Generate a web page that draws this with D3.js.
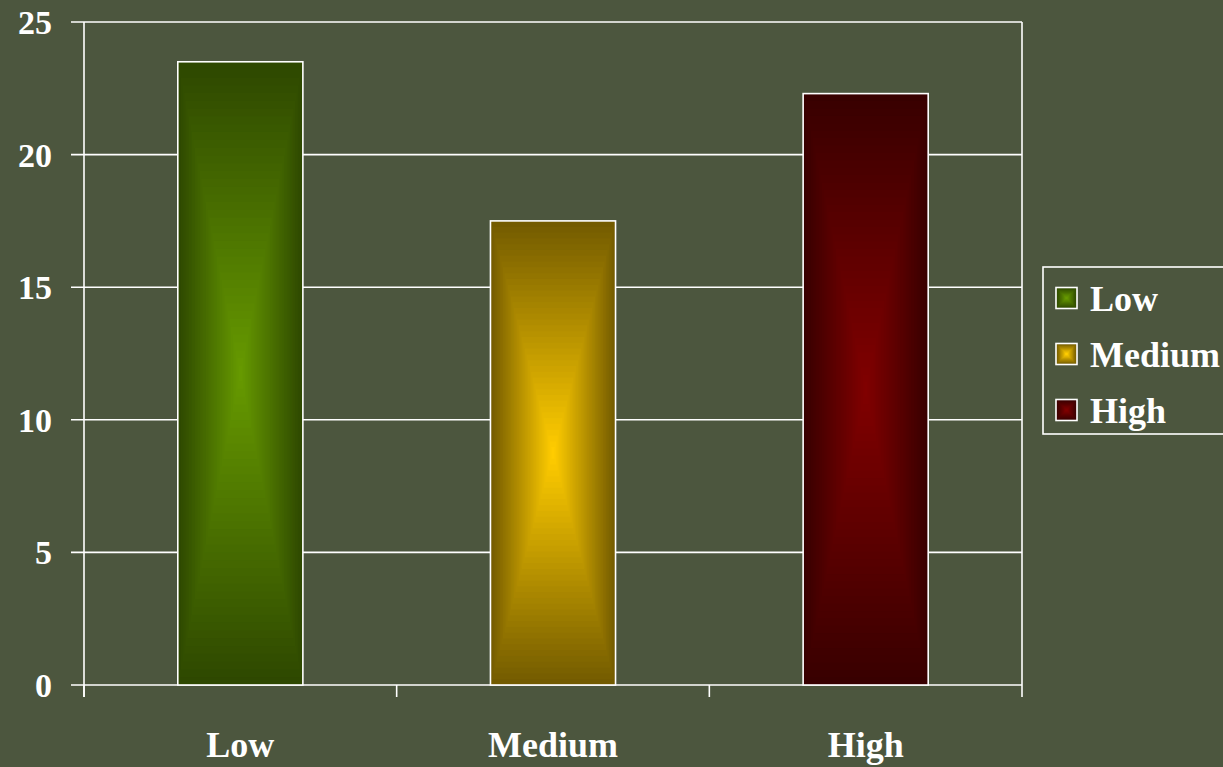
<!DOCTYPE html>
<html><head><meta charset="utf-8">
<script src="https://cdn.jsdelivr.net/npm/d3@7"></script>
<style>html,body{margin:0;padding:0;background:#4c563e;overflow:hidden}</style>
</head><body>
<svg id="c" width="1223" height="767"></svg>
<script>
const categories = ["Low", "Medium", "High"];
const values = [23.5, 17.5, 22.3];
const edgeColors = ["#2e4800", "#735b00", "#380000"];
const centerColors = ["#669900", "#ffcc00", "#800000"];
const yTicks = [0, 5, 10, 15, 20, 25];

const W = 1223, H = 767;
const m = {left: 84, right: 1022, top: 22, bottom: 685};
const font = "'Liberation Serif', 'DejaVu Serif', serif";
const svg = d3.select("#c");
svg.append("rect").attr("width", W).attr("height", H).attr("fill", "#4c563e");

const x = d3.scaleBand().domain(categories).range([m.left, m.right]).padding(0);
const y = d3.scaleLinear().domain([0, 25]).range([m.bottom, m.top]);

// gridlines
svg.append("g").selectAll("line").data(yTicks).join("line")
  .attr("x1", m.left - 13).attr("x2", m.right)
  .attr("y1", d => y(d)).attr("y2", d => y(d))
  .attr("stroke", "#fff").attr("stroke-width", 1.6);
// frame right + left
svg.append("line").attr("x1", m.right).attr("x2", m.right).attr("y1", y(25)).attr("y2", y(0))
  .attr("stroke", "#fff").attr("stroke-width", 1.6);
svg.append("line").attr("x1", m.left).attr("x2", m.left).attr("y1", y(25)).attr("y2", y(0) + 12)
  .attr("stroke", "#fff").attr("stroke-width", 1.6);
// x ticks at band boundaries
const bounds = categories.map(c => x(c)).concat([x(categories[categories.length - 1]) + x.bandwidth()]);
svg.append("g").selectAll("line").data(bounds).join("line")
  .attr("x1", d => d).attr("x2", d => d).attr("y1", y(0)).attr("y2", y(0) + 12)
  .attr("stroke", "#fff").attr("stroke-width", 1.6);

// y labels
svg.append("g").selectAll("text").data(yTicks).join("text")
  .attr("x", 52).attr("y", d => y(d)).attr("dy", "0.35em")
  .attr("text-anchor", "end").attr("fill", "#fff")
  .attr("font-family", font).attr("font-weight", "bold").attr("font-size", 34)
  .text(d => d);

// x labels
svg.append("g").selectAll("text").data(categories).join("text")
  .attr("x", d => x(d) + x.bandwidth() / 2).attr("y", 757)
  .attr("text-anchor", "middle").attr("fill", "#fff")
  .attr("font-family", font).attr("font-weight", "bold").attr("font-size", 36)
  .text(d => d);

// box gradient drawn as nested rects
function boxGradient(g, x0, y0, w, h, c0, c1, steps) {
  const interp = d3.interpolateRgb(c0, c1);
  const cx = x0 + w / 2, cy = y0 + h / 2;
  const idx = d3.range(steps);
  g.selectAll("rect.s").data(idx).join("rect").attr("class", "s")
    .attr("x", i => cx - (w / 2) * (1 - i / steps))
    .attr("y", i => cy - (h / 2) * (1 - i / steps))
    .attr("width", i => w * (1 - i / steps))
    .attr("height", i => h * (1 - i / steps))
    .attr("fill", i => interp(i / (steps - 1)));
}

const barW = x.bandwidth() * 0.4;
categories.forEach((c, i) => {
  const bx = x(c) + (x.bandwidth() - barW) / 2;
  const by = y(values[i]);
  const bh = y(0) - by;
  const g = svg.append("g");
  boxGradient(g, bx, by, barW, bh, edgeColors[i], centerColors[i], 40);
  g.append("rect").attr("x", bx).attr("y", by).attr("width", barW).attr("height", bh)
    .attr("fill", "none").attr("stroke", "#fff").attr("stroke-width", 1.6);
});

// legend
const lg = svg.append("g");
lg.append("rect").attr("x", 1043).attr("y", 267).attr("width", 220).attr("height", 167)
  .attr("fill", "none").attr("stroke", "#fff").attr("stroke-width", 1.6);
categories.forEach((c, i) => {
  const cy = 298 + i * 56;
  const g = lg.append("g");
  boxGradient(g, 1056, cy - 10.5, 21, 21, edgeColors[i], centerColors[i], 8);
  g.append("rect").attr("x", 1056).attr("y", cy - 10.5).attr("width", 21).attr("height", 21)
    .attr("fill", "none").attr("stroke", "#fff").attr("stroke-width", 1.6);
  g.append("text").attr("x", 1090).attr("y", cy).attr("dy", "0.35em")
    .attr("fill", "#fff").attr("font-family", font).attr("font-weight", "bold").attr("font-size", 36)
    .text(c);
});
</script>
</body></html>
